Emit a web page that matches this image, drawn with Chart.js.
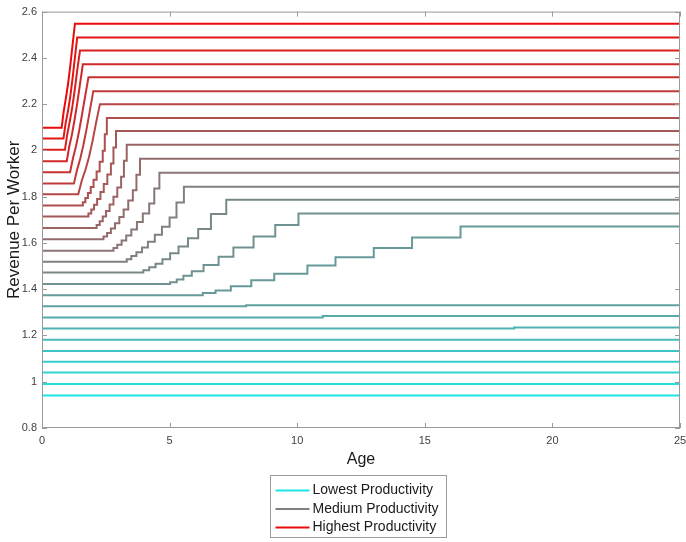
<!DOCTYPE html>
<html>
<head>
<meta charset="utf-8">
<script src="https://cdn.jsdelivr.net/npm/chart.js@4.4.3/dist/chart.umd.min.js"></script>
<style>
  html, body { margin: 0; padding: 0; background: #fff; }
  #chart { display: block; }
</style>
</head>
<body>
<canvas id="chart" width="686" height="542"></canvas>
<script>
// Age (x) and revenue per worker (y) for each productivity level, lowest first.
// Each series is a list of step points: the value holds until the next age.
const fullSpan = [0, 25];

const revenue01 = [0.94, 0.94];
const revenue02 = [0.99, 0.99];
const revenue03 = [1.04, 1.04];
const revenue04 = [1.086, 1.086];
const revenue05 = [1.133, 1.133];
const revenue06 = [1.181, 1.181];

const ages07 = [0, 18.5, 25];
const revenue07 = [1.23, 1.234, 1.234];
const ages08 = [0, 11.0, 25];
const revenue08 = [1.278, 1.284, 1.284];
const ages09 = [0, 8.0, 25];
const revenue09 = [1.326, 1.331, 1.331];

const ages10 = [0, 6.3, 6.8, 7.4, 8.2, 9.1, 10.4, 11.5, 13.0, 14.5, 16.4, 25];
const revenue10 = [1.374, 1.384, 1.394, 1.413, 1.439, 1.467, 1.502, 1.538, 1.578, 1.624, 1.671, 1.671];

const ages11 = [0, 5.02, 5.28, 5.54, 5.87, 6.33, 6.92, 7.5, 8.29, 9.14, 10.05, 25];
const revenue11 = [1.423, 1.43, 1.442, 1.458, 1.478, 1.505, 1.54, 1.58, 1.628, 1.678, 1.727, 1.727];

const ages12 = [0, 3.97, 4.2, 4.45, 4.72, 5.02, 5.35, 5.72, 6.12, 6.62, 7.22, 25];
const revenue12 = [1.472, 1.482, 1.495, 1.51, 1.53, 1.555, 1.585, 1.62, 1.66, 1.725, 1.787, 1.787];

const ages13 = [0, 3.32, 3.5, 3.7, 3.92, 4.15, 4.42, 4.7, 5.0, 5.27, 5.56, 25];
const revenue13 = [1.519, 1.53, 1.543, 1.56, 1.58, 1.605, 1.635, 1.67, 1.71, 1.775, 1.843, 1.843];

const ages14 = [0, 2.8, 2.95, 3.12, 3.3, 3.5, 3.72, 3.95, 4.2, 4.4, 4.6, 25];
const revenue14 = [1.566, 1.578, 1.592, 1.61, 1.632, 1.658, 1.69, 1.727, 1.77, 1.835, 1.903, 1.903];

const ages15 = [0, 2.41, 2.55, 2.7, 2.86, 3.03, 3.2, 3.38, 3.56, 3.7, 3.84, 25];
const revenue15 = [1.616, 1.628, 1.643, 1.662, 1.685, 1.712, 1.745, 1.783, 1.828, 1.895, 1.964, 1.964];

const ages16 = [0, 2.14, 2.26, 2.38, 2.51, 2.65, 2.8, 2.95, 3.1, 3.21, 3.32, 25];
const revenue16 = [1.665, 1.678, 1.694, 1.714, 1.738, 1.766, 1.8, 1.84, 1.886, 1.955, 2.024, 2.024];

const ages17 = [0, 1.82, 1.93, 2.04, 2.16, 2.29, 2.42, 2.56, 2.7, 2.8, 2.9, 25];
const revenue17 = [1.714, 1.727, 1.744, 1.765, 1.79, 1.82, 1.855, 1.896, 1.943, 2.013, 2.084, 2.084];

const ages18 = [0, 1.6, 1.7, 1.8, 1.91, 2.02, 2.14, 2.26, 2.38, 2.46, 2.54, 25];
const revenue18 = [1.762, 1.776, 1.794, 1.816, 1.842, 1.873, 1.909, 1.951, 1.999, 2.07, 2.14, 2.14];

// the top ones rise almost like a ramp
const ages19 = [0, 1.42, 1.56, 1.7, 1.84, 1.98, 2.12, 2.27, 25];
const revenue19 = [1.81, 1.81, 1.87, 1.915, 1.97, 2.04, 2.12, 2.2, 2.2];

const ages20 = [0, 1.25, 1.38, 1.5, 1.62, 1.75, 1.88, 2.01, 25];
const revenue20 = [1.857, 1.857, 1.918, 1.965, 2.022, 2.094, 2.175, 2.256, 2.256];

const ages21 = [0, 1.1, 1.22, 1.33, 1.44, 1.56, 1.69, 1.82, 25];
const revenue21 = [1.906, 1.906, 1.969, 2.017, 2.076, 2.15, 2.233, 2.316, 2.316];

const ages22 = [0, 0.97, 1.07, 1.17, 1.27, 1.38, 1.49, 1.6, 25];
const revenue22 = [1.953, 1.953, 2.018, 2.067, 2.128, 2.203, 2.288, 2.372, 2.372];

const ages23 = [0, 0.9, 0.99, 1.08, 1.18, 1.28, 1.38, 1.49, 25];
const revenue23 = [2.003, 2.003, 2.07, 2.12, 2.182, 2.259, 2.346, 2.432, 2.432];

const ages24 = [0, 0.84, 0.93, 1.02, 1.11, 1.2, 1.29, 1.38, 25];
const revenue24 = [2.051, 2.051, 2.12, 2.171, 2.235, 2.313, 2.402, 2.488, 2.488];

const ages25 = [0, 0.77, 0.85, 0.93, 1.02, 1.11, 1.2, 1.29, 25];
const revenue25 = [2.098, 2.098, 2.169, 2.222, 2.287, 2.368, 2.458, 2.548, 2.548];

const xTicks = [0, 5, 10, 15, 20, 25];
const yTicks = [0.8, 1, 1.2, 1.4, 1.6, 1.8, 2, 2.2, 2.4, 2.6];
const legendLabels = ["Lowest Productivity", "Medium Productivity", "Highest Productivity"];

const series = [
  [fullSpan, revenue01], [fullSpan, revenue02], [fullSpan, revenue03],
  [fullSpan, revenue04], [fullSpan, revenue05], [fullSpan, revenue06],
  [ages07, revenue07], [ages08, revenue08], [ages09, revenue09],
  [ages10, revenue10], [ages11, revenue11], [ages12, revenue12],
  [ages13, revenue13], [ages14, revenue14], [ages15, revenue15],
  [ages16, revenue16], [ages17, revenue17], [ages18, revenue18],
  [ages19, revenue19], [ages20, revenue20], [ages21, revenue21],
  [ages22, revenue22], [ages23, revenue23], [ages24, revenue24],
  [ages25, revenue25],
];

// cyan -> grey -> red
function lineColor(i, n) {
  const t = i / (n - 1);
  let r, g, b;
  if (t <= 0.5) {
    const k = t / 0.5;
    r = 30 + (128 - 30) * k;
    g = 228 + (128 - 228) * k;
    b = 228 + (128 - 228) * k;
  } else {
    const k = (t - 0.5) / 0.5;
    r = 128 + (235 - 128) * k;
    g = 128 + (10 - 128) * k;
    b = 128 + (10 - 128) * k;
  }
  return `rgb(${Math.round(r)},${Math.round(g)},${Math.round(b)})`;
}

const datasets = series.map(([ages, revs], i) => ({
  label: "level " + (i + 1),
  data: ages.map((a, k) => ({ x: a, y: revs[k] })),
  borderColor: lineColor(i, series.length),
  borderWidth: 2,
  pointRadius: 0,
  // horizontal first, then the jump at the next age
  stepped: i < 18 ? "before" : false,
  tension: 0,
}));

const FONT = "'Liberation Sans', Arial, Helvetica, sans-serif";

// box, inward ticks and the boxed legend under the axis title
const matlabFrame = {
  id: "matlabFrame",
  afterDraw(chart) {
    const { ctx, chartArea: a, scales } = chart;
    const x = scales.x, y = scales.y;
    ctx.save();
    ctx.strokeStyle = "#9a9a9a";
    ctx.lineWidth = 1;
    ctx.strokeRect(a.left + 0.5, a.top + 0.5, a.right - a.left - 1, a.bottom - a.top - 1);
    ctx.beginPath();
    xTicks.forEach((v) => {
      const px = Math.round(x.getPixelForValue(v)) + 0.5;
      ctx.moveTo(px, a.bottom);
      ctx.lineTo(px, a.bottom - 5);
      ctx.moveTo(px, a.top);
      ctx.lineTo(px, a.top + 5);
    });
    yTicks.forEach((v) => {
      const py = Math.round(y.getPixelForValue(v)) + 0.5;
      ctx.moveTo(a.left, py);
      ctx.lineTo(a.left + 5, py);
      ctx.moveTo(a.right, py);
      ctx.lineTo(a.right - 5, py);
    });
    ctx.stroke();

    // legend
    const boxW = 176, boxH = 62;
    const bx = Math.round((a.left + a.right) / 2 - boxW / 2) - 2.5;
    const by = Math.round(a.bottom + 47) + 0.5;
    ctx.fillStyle = "#fff";
    ctx.fillRect(bx, by, boxW, boxH);
    ctx.strokeStyle = "#9a9a9a";
    ctx.strokeRect(bx, by, boxW, boxH);
    const colors = [lineColor(0, 25), lineColor(12, 25), lineColor(24, 25)];
    ctx.font = "14px " + FONT;
    ctx.textBaseline = "middle";
    ctx.textAlign = "left";
    legendLabels.forEach((lab, i) => {
      const ly = by + 15 + i * 18.5;
      ctx.strokeStyle = colors[i];
      ctx.lineWidth = 2;
      ctx.beginPath();
      ctx.moveTo(bx + 5, ly);
      ctx.lineTo(bx + 39, ly);
      ctx.stroke();
      ctx.fillStyle = "#1a1a1a";
      ctx.fillText(lab, bx + 42, ly);
    });
    ctx.restore();
  },
};

new Chart(document.getElementById("chart"), {
  type: "line",
  data: { datasets },
  options: {
    responsive: false,
    animation: false,
    events: [],
    layout: { padding: { left: 0, top: 9, right: 0, bottom: 72 } },
    plugins: { legend: { display: false }, tooltip: { enabled: false } },
    scales: {
      x: {
        type: "linear",
        min: 0,
        max: 25,
        afterBuildTicks: (s) => { s.ticks = xTicks.map((v) => ({ value: v })); },
        afterFit: (s) => { s.height = 42; s.paddingRight = 6; },
        grid: { display: false, drawTicks: false },
        border: { display: false },
        ticks: { color: "#404040", font: { size: 11, family: FONT }, padding: 6, maxRotation: 0 },
        title: { display: true, text: "Age", color: "#1a1a1a", font: { size: 16, family: FONT }, padding: { top: 4, bottom: 1 } },
      },
      y: {
        type: "linear",
        min: 0.8,
        max: 2.6,
        afterBuildTicks: (s) => { s.ticks = yTicks.map((v) => ({ value: v })); },
        afterFit: (s) => { s.width = 42; },
        grid: { display: false, drawTicks: false },
        border: { display: false },
        ticks: { color: "#404040", font: { size: 11, family: FONT }, padding: 5, callback: (v) => String(+v.toFixed(1)) },
        title: { display: true, text: "Revenue Per Worker", color: "#1a1a1a", font: { size: 17, family: FONT }, padding: { top: 4, bottom: 0 } },
      },
    },
  },
  plugins: [matlabFrame],
});
</script>
</body>
</html>
